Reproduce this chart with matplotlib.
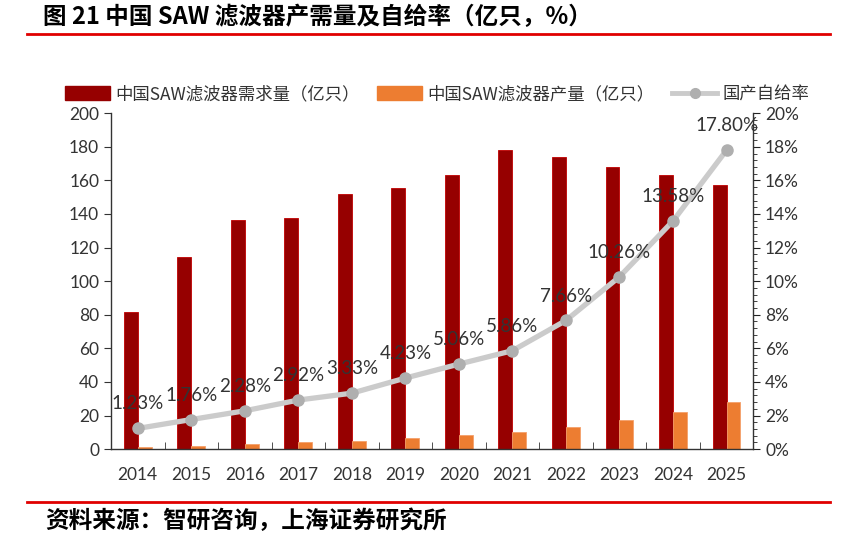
import numpy as np
import matplotlib
matplotlib.use("Agg")
import matplotlib.pyplot as plt
from matplotlib.ticker import FuncFormatter, MultipleLocator, FixedLocator
from matplotlib.lines import Line2D
from matplotlib.patches import Patch

plt.rcParams['font.family'] = ['Lato', 'Noto Sans CJK SC', 'DejaVu Sans']

# data
years = ['2014', '2015', '2016', '2017', '2018', '2019', '2020', '2021', '2022', '2023', '2024', '2025']
demand = [81.5, 114.5, 136.5, 137.5, 152, 155.5, 163, 178, 174, 168, 163, 157.5]
output = [1.0, 2.0, 3.1, 4.0, 5.1, 6.6, 8.3, 10.4, 13.3, 17.3, 22.1, 28.0]
ratio = [1.23, 1.76, 2.28, 2.92, 3.33, 4.23, 5.06, 5.86, 7.66, 10.26, 13.58, 17.80]

dark_red = '#960000'
orange = '#ED7D31'
line_grey = '#CBCBCB'
text_col = '#333333'

fig = plt.figure(figsize=(8.44, 5.47), dpi=100)
ax = fig.add_axes([0.1315, 0.179, 0.761, 0.614])
ax2 = ax.twinx()

x = np.arange(len(years))
w = 0.26
ax.bar(x - w / 2, demand, w, color=dark_red, edgecolor='#C00000', linewidth=0.6, zorder=2)
ax.bar(x + w / 2, output, w, color=orange, edgecolor='#F4A06A', linewidth=0.6, zorder=2)

ax2.plot(x, ratio, color=line_grey, lw=3.8, marker='o', ms=8,
         mfc='#AFAFAF', mec='#AFAFAF', zorder=3)
for xi, r in zip(x, ratio):
    ax2.text(xi, r + 0.95, f'{r:.2f}%', ha='center', va='bottom',
             fontsize=13.5, color=text_col, zorder=4)
ax.set_zorder(ax2.get_zorder() - 1)
ax.patch.set_visible(False)

ax.set_xlim(-0.5, len(years) - 0.5)
ax.set_ylim(0, 200)
ax2.set_ylim(0, 20)
ax.yaxis.set_major_locator(MultipleLocator(20))
ax2.yaxis.set_major_locator(MultipleLocator(2))
ax2.yaxis.set_minor_locator(MultipleLocator(0.4))
ax2.yaxis.set_major_formatter(FuncFormatter(lambda v, p: f'{v:.0f}%'))

ax.set_xticks(x)
ax.set_xticklabels(years)
ax.xaxis.set_minor_locator(FixedLocator(np.arange(0.5, len(years) - 1, 1)))
ax.tick_params(axis='x', which='major', length=0, pad=13, labelsize=12.5, colors=text_col)
ax.tick_params(axis='x', which='minor', direction='in', length=5, color='#333333')
ax.tick_params(axis='y', length=5, labelsize=12.5, colors=text_col, color='#333333')
ax2.tick_params(axis='y', which='major', length=5, labelsize=12.5, colors=text_col, color='#222222')
ax2.tick_params(axis='y', which='minor', length=3, color='#222222')

for a in (ax, ax2):
    a.spines['top'].set_visible(False)
    for s in ('left', 'right', 'bottom'):
        a.spines[s].set_color('#333333')
        a.spines[s].set_linewidth(1.0)
ax.spines['right'].set_visible(False)
ax2.spines['left'].set_visible(False)
ax2.spines['bottom'].set_visible(False)

handles = [Patch(color=dark_red), Patch(color=orange),
           Line2D([0], [0], color=line_grey, lw=3.5, marker='o', ms=7,
                  mfc='#AFAFAF', mec='#AFAFAF')]
labels = ['中国SAW滤波器需求量（亿只）', '中国SAW滤波器产量（亿只）', '国产自给率']
fig.legend(handles, labels, loc='center', bbox_to_anchor=(0.518, 0.828), ncol=3,
           frameon=False, handlelength=2.6, handleheight=0.8,
           columnspacing=1.0, handletextpad=0.3, labelcolor=text_col,
           prop={'family': ['Noto Sans CJK SC', 'DejaVu Sans'], 'size': 12.5})

# title and source
fig.text(0.051, 0.969, '图 21 中国 SAW 滤波器产需量及自给率（亿只，%）', fontsize=17,
         fontweight='bold', family=['Noto Sans CJK SC', 'DejaVu Sans'],
         ha='left', va='center', color='black')
fig.add_artist(Line2D([0.032, 0.984], [0.937, 0.937], color='#E00000', lw=2))
fig.add_artist(Line2D([0.032, 0.984], [0.082, 0.082], color='#E00000', lw=2))
fig.text(0.053, 0.047, '资料来源：智研咨询，上海证券研究所', fontsize=17,
         fontweight='bold', family=['Noto Sans CJK SC', 'DejaVu Sans'],
         ha='left', va='center', color='black')

fig.savefig('out.png', dpi=100)
